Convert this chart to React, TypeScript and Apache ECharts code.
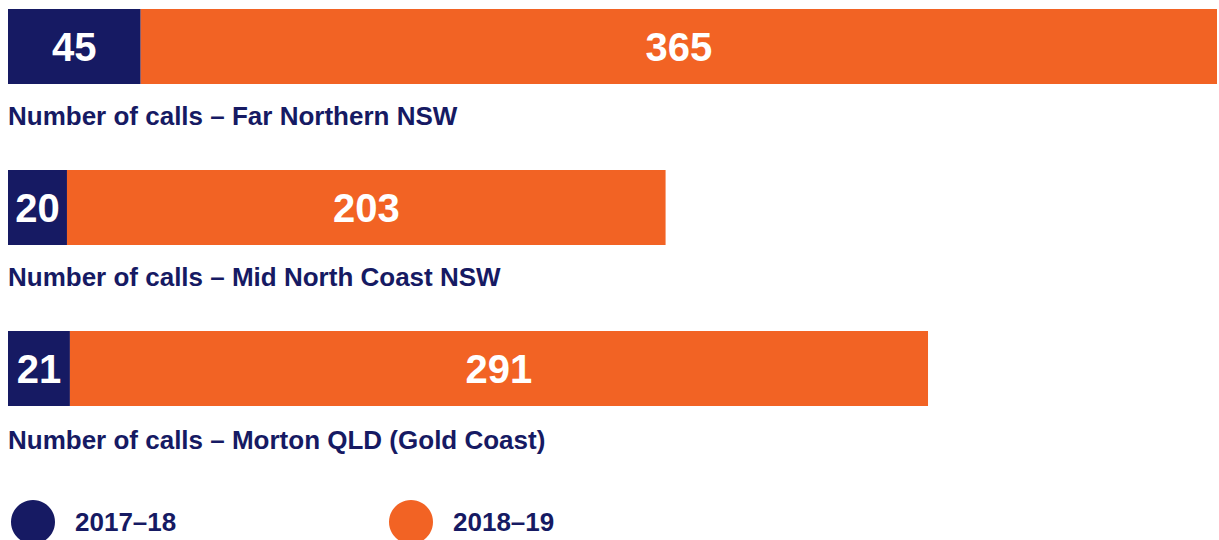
import React, { useEffect, useRef } from "react";
import * as echarts from "echarts";

const regions = ["Far Northern NSW", "Mid North Coast NSW", "Morton QLD (Gold Coast)"];
const seriesNames = ["2017–18", "2018–19"];
const calls2017 = [45, 20, 21];
const calls2018 = [365, 203, 291];

const NAVY = "#161a63";
const ORANGE = "#f26324";
const FONT = "'Liberation Sans', Arial, sans-serif";

export default function App() {
  const ref = useRef<HTMLDivElement>(null);
  useEffect(() => {
    if (!ref.current) return;
    const chart = echarts.init(ref.current, undefined, { renderer: "svg" });
    const bandTop = 9;
    const step = 161;
    const barH = 75;
    const grids = regions.map((_, i) => ({
      left: 8,
      right: 2,
      top: bandTop + step * i,
      height: barH,
    }));
    const xAxes = regions.map((_, i) => ({
      type: "value",
      gridIndex: i,
      min: 0,
      max: 410,
      show: false,
    }));
    const yAxes = regions.map((r, i) => ({
      type: "category",
      gridIndex: i,
      data: [r],
      show: false,
    }));
    const labelStyle = {
      show: true,
      position: "inside",
      color: "#ffffff",
      fontSize: 40,
      fontWeight: "bold",
      fontFamily: FONT,
    };
    const series: any[] = [];
    regions.forEach((_, i) => {
      series.push({
        type: "bar",
        name: seriesNames[0],
        xAxisIndex: i,
        yAxisIndex: i,
        stack: "s" + i,
        barWidth: "100%",
        itemStyle: { color: NAVY },
        label: labelStyle,
        data: [calls2017[i]],
      });
      series.push({
        type: "bar",
        name: seriesNames[1],
        xAxisIndex: i,
        yAxisIndex: i,
        stack: "s" + i,
        barWidth: "100%",
        itemStyle: { color: ORANGE },
        label: labelStyle,
        data: [calls2018[i]],
      });
    });
    const subtitleY = [118, 279, 442];
    const legendText = {
      color: NAVY,
      fontSize: 26,
      fontWeight: "bold",
      fontFamily: FONT,
      padding: [0, 0, 0, 15],
    };
    const legendBase = {
      top: 500,
      padding: 0,
      icon: "circle",
      itemWidth: 44,
      itemHeight: 44,
      selectedMode: false,
      textStyle: legendText,
    };
    chart.setOption({
      animation: false,
      grid: grids,
      xAxis: xAxes,
      yAxis: yAxes,
      series,
      legend: [
        { ...legendBase, data: [seriesNames[0]], left: 11 },
        { ...legendBase, data: [seriesNames[1]], left: 389 },
      ],
      graphic: regions.map((r, i) => ({
        type: "text",
        left: 8,
        top: subtitleY[i] - 15,
        style: {
          text: "Number of calls – " + r,
          fill: NAVY,
          font: `bold 26px ${FONT}`,
        },
      })),
    });
    return () => chart.dispose();
  }, []);
  return (
    <div
      ref={ref}
      style={{ position: "fixed", left: 0, top: 0, width: 1219, height: 540, background: "#fff" }}
    />
  );
}
